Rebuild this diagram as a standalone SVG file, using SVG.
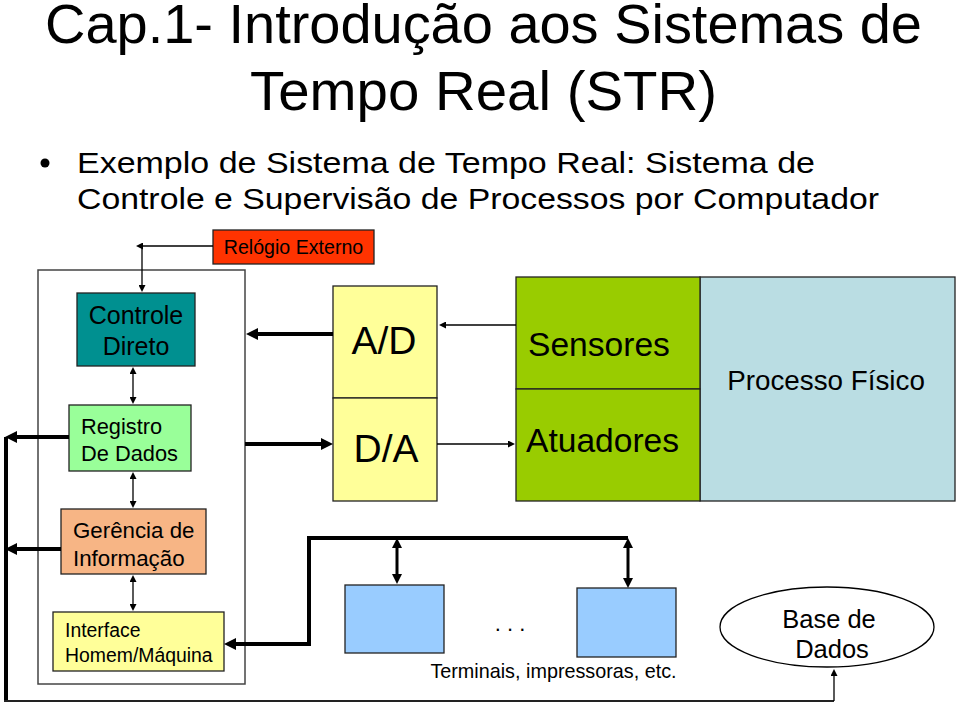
<svg xmlns="http://www.w3.org/2000/svg" width="960" height="703" viewBox="0 0 960 703">
<style>
text{font-family:"Liberation Sans",Arial,sans-serif;fill:#000}
.box{stroke:#222;stroke-width:1.3}
.thin{fill:none;stroke:#000;stroke-width:1.3}
.med{fill:none;stroke:#000;stroke-width:3}
.thick{fill:none;stroke:#000;stroke-width:4}
</style>
<defs>
<marker id="ah" markerUnits="userSpaceOnUse" viewBox="0 0 10 10" refX="0" refY="5" markerWidth="8" markerHeight="7" orient="auto-start-reverse"><path d="M0,0 L10,5 L0,10 z" fill="#000"/></marker>
<marker id="ahm" markerUnits="userSpaceOnUse" viewBox="0 0 10 10" refX="0" refY="5" markerWidth="10" markerHeight="11" orient="auto-start-reverse"><path d="M0,0 L10,5 L0,10 z" fill="#000"/></marker>
<marker id="aht" markerUnits="userSpaceOnUse" viewBox="0 0 10 10" refX="0" refY="5" markerWidth="12" markerHeight="12" orient="auto-start-reverse"><path d="M0,0 L10,5 L0,10 z" fill="#000"/></marker>
</defs>
<rect width="960" height="703" fill="#fff"/>

<g id="title">
<text x="483.5" y="43" font-size="55" text-anchor="middle" textLength="877" lengthAdjust="spacingAndGlyphs">Cap.1- Introdução aos Sistemas de</text>
<text x="483.5" y="110" font-size="55" text-anchor="middle" textLength="467" lengthAdjust="spacingAndGlyphs">Tempo Real (STR)</text>
</g>
<g id="bullet">
<circle cx="45" cy="163" r="4.5" fill="#000"/>
<text x="77" y="173" font-size="30" textLength="738" lengthAdjust="spacingAndGlyphs">Exemplo de Sistema de Tempo Real: Sistema de</text>
<text x="77" y="209" font-size="30" textLength="802" lengthAdjust="spacingAndGlyphs">Controle e Supervisão de Processos por Computador</text>
</g>

<g id="computador"><rect x="38" y="270" width="207" height="414" fill="none" stroke="#444" stroke-width="1.5"/></g>

<g id="relogio"><rect class="box" x="213" y="230" width="161" height="34" fill="#ff3300"/>
<text x="293.5" y="254" font-size="19.6" text-anchor="middle">Relógio Externo</text></g>

<g id="controle"><rect class="box" x="77" y="293" width="118" height="73" fill="#009090"/>
<text x="136" y="324" font-size="25" text-anchor="middle">Controle</text>
<text x="136" y="355" font-size="25" text-anchor="middle">Direto</text></g>

<g id="registro"><rect class="box" x="69" y="405" width="122" height="66" fill="#99ff99"/>
<text x="81" y="434" font-size="21.8">Registro</text>
<text x="81" y="461" font-size="21.8">De Dados</text></g>

<g id="gerencia"><rect class="box" x="61" y="509" width="145" height="65" fill="#f7b585"/>
<text x="73" y="538" font-size="22.3">Gerência de</text>
<text x="73" y="566" font-size="22.3">Informação</text></g>

<g id="interface"><rect class="box" x="53" y="612" width="171" height="59" fill="#ffff99"/>
<text x="65" y="637" font-size="19.4">Interface</text>
<text x="65" y="662" font-size="19.4">Homem/Máquina</text></g>

<g id="ad"><rect class="box" x="333" y="286" width="104" height="112" fill="#ffff99"/>
<text x="384" y="354" font-size="39" text-anchor="middle">A/D</text></g>
<g id="da"><rect class="box" x="333" y="398" width="104" height="103" fill="#ffff99"/>
<text x="386" y="462" font-size="39" text-anchor="middle">D/A</text></g>

<g id="processo"><rect class="box" x="700" y="277" width="255" height="224" fill="#badde3"/>
<text x="826" y="390" font-size="27.8" text-anchor="middle">Processo Físico</text></g>
<g id="sensores"><rect class="box" x="516" y="277" width="184" height="112" fill="#99cc00"/>
<text x="528" y="356" font-size="33.6">Sensores</text></g>
<g id="atuadores"><rect class="box" x="516" y="389" width="184" height="112" fill="#99cc00"/>
<text x="526" y="452" font-size="33.6">Atuadores</text></g>

<g id="terminal1"><rect class="box" x="345" y="585" width="99" height="68" fill="#99ccff"/></g>
<g id="terminal2"><rect class="box" x="577" y="588" width="99" height="69" fill="#99ccff"/></g>
<g id="reticencias"><text x="510" y="631" font-size="22" text-anchor="middle">. . .</text></g>
<g id="terminais-label"><text x="553.5" y="678" font-size="19.8" text-anchor="middle">Terminais, impressoras, etc.</text></g>

<g id="base"><ellipse cx="827" cy="627" rx="107" ry="40" fill="#fff" stroke="#000" stroke-width="1.3"/>
<text x="829" y="628" font-size="25.5" text-anchor="middle">Base de</text>
<text x="832" y="658" font-size="25.5" text-anchor="middle">Dados</text></g>

<g id="connectors">
<path class="thin" d="M213,246 H143" marker-end="url(#ah)"/>
<path class="thin" d="M142,246 V285" marker-end="url(#ah)"/>
<path class="thin" d="M133,374 V397" marker-start="url(#ah)" marker-end="url(#ah)"/>
<path class="thin" d="M133,479 V501" marker-start="url(#ah)" marker-end="url(#ah)"/>
<path class="thin" d="M133,582 V604" marker-start="url(#ah)" marker-end="url(#ah)"/>
<path class="thick" d="M69,437 H17" marker-end="url(#aht)"/>
<path class="thick" d="M61,549 H17" marker-end="url(#aht)"/>
<path class="thick" d="M6,437 V701"/>
<path fill="none" stroke="#222" stroke-width="2" d="M4,701 H834"/>
<path class="thin" d="M834,701 V676" marker-end="url(#ah)"/>
<path class="thick" d="M333,334 H258" marker-end="url(#aht)"/>
<path class="thick" d="M245,444 H321" marker-end="url(#aht)"/>
<path class="thin" d="M516,325 H446" marker-end="url(#ah)"/>
<path class="thin" d="M437,444 H508" marker-end="url(#ah)"/>
<path class="thick" d="M628,538 H309 V644 H236" marker-end="url(#aht)"/>
<path class="med" d="M397,548 V574" marker-start="url(#ahm)" marker-end="url(#ahm)"/>
<path class="med" d="M628,548 V578" marker-start="url(#ahm)" marker-end="url(#ahm)"/>
</g>
</svg>
